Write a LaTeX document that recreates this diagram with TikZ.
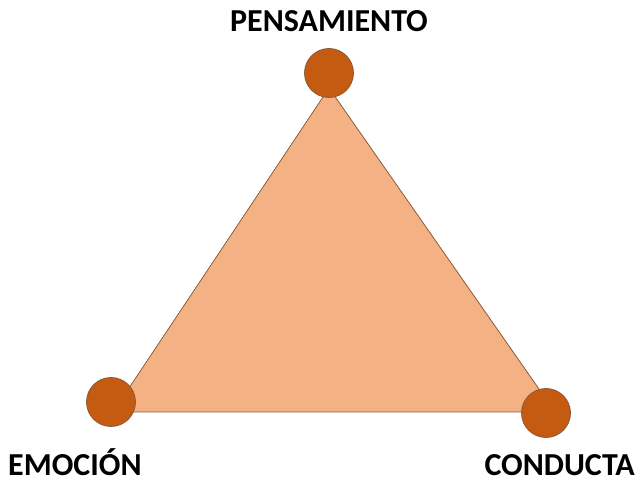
\documentclass[tikz,border=0pt]{standalone}
\usepackage{fontspec}
\setmainfont{Carlito}
\usepackage{tikz}
\usetikzlibrary{arrows}

\definecolor{punto}{HTML}{C55A11}
\definecolor{relleno}{HTML}{F4B183}
\definecolor{borde}{HTML}{8A5A3C}

\tikzset{
  punto/.style={circle,draw=borde,fill=punto,line width=0.8pt,minimum size=49pt,inner sep=0pt},
  etiqueta/.style={font=\fontsize{32}{35}\selectfont\bfseries,inner sep=0pt}
}

\begin{document}
\begin{tikzpicture}[x=1pt,y=-1pt]
\useasboundingbox (0,0) rectangle (638,478);

\coordinate (t1) at (329,88);
\coordinate (t2) at (113,412);
\coordinate (t3) at (555,412);
\draw [borde,fill=relleno,line width=0.8pt] (t1) -- (t2) -- (t3) -- cycle;

\node [punto] (p) at (329,73) {};
\node [punto] (e) at (111,402) {};
\node [punto] (c) at (546,413) {};

\node [etiqueta,anchor=base] (lp) at (329,32) {PENSAMIENTO};
\node [etiqueta,anchor=base west] (le) at (8,476) {EMOCIÓN};
\node [etiqueta,anchor=base east] (lc) at (635,476) {CONDUCTA};

\end{tikzpicture}
\end{document}
